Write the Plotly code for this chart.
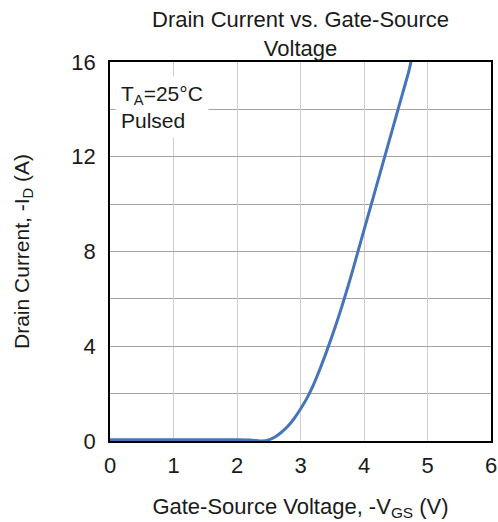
import plotly.graph_objects as go

# Transfer characteristic: -VGS (V) vs -ID (A), TA = 25 °C, pulsed
vgs = [0.0, 0.5, 1.0, 1.5, 2.0, 2.2, 2.3, 2.4, 2.5, 2.6, 2.7, 2.8, 2.9,
       3.0, 3.1, 3.2, 3.3, 3.4, 3.5, 3.6, 3.7, 3.8, 3.9, 4.0, 4.1, 4.2,
       4.3, 4.4, 4.5, 4.6, 4.7, 4.74]
id_a = [0.05, 0.05, 0.05, 0.05, 0.05, 0.04, 0.02, 0.0, 0.05, 0.17, 0.37, 0.62, 0.95,
        1.35, 1.8, 2.35, 3.0, 3.7, 4.45, 5.25, 6.1, 7.0, 7.95, 8.9, 9.85, 10.8,
        11.75, 12.7, 13.65, 14.6, 15.55, 16.0]

x_ticks = [0, 1, 2, 3, 4, 5, 6]
y_ticks = [0, 4, 8, 12, 16]

FONT = "Liberation Sans, Arial, sans-serif"
TXT = "#1a1a1a"

fig = go.Figure()
fig.add_trace(go.Scatter(
    x=vgs, y=id_a, mode="lines",
    line=dict(color="#4674BA", width=3, shape="spline", smoothing=0.8),
    hoverinfo="skip", showlegend=False,
))

# Test-condition note, on a white box over the grid
fig.add_annotation(
    text="T<sub>A</sub>=25°C<br>Pulsed",
    xref="paper", yref="paper", x=0.012, y=0.962,
    xanchor="left", yanchor="top", align="left",
    showarrow=False, bgcolor="white", borderpad=5,
    font=dict(family=FONT, size=21, color=TXT),
)

# Chart title (two lines)
fig.add_annotation(
    text="Drain Current vs. Gate-Source<br>Voltage",
    xref="paper", yref="paper", x=0.5, y=1.15,
    xanchor="center", yanchor="top", align="center",
    showarrow=False,
    font=dict(family=FONT, size=22, color=TXT),
)

fig.update_layout(
    width=498, height=522,
    margin=dict(l=110, r=7, t=62, b=81, autoexpand=False),
    paper_bgcolor="white", plot_bgcolor="white",
    font=dict(family=FONT, size=22, color=TXT),
    xaxis=dict(
        range=[0, 6], tickvals=x_ticks, ticktext=[str(v) for v in x_ticks],
        showgrid=True, gridcolor="#cfcfcf", gridwidth=1,
        zeroline=False, showline=True, linecolor="black", linewidth=1.6,
        mirror=True, ticks="", ticklabelstandoff=4, automargin=False,
        tickfont=dict(size=22),
        title=dict(text="Gate-Source Voltage, -V<sub>GS</sub> (V)",
                   font=dict(size=22), standoff=21),
    ),
    yaxis=dict(
        range=[0, 16], tickvals=y_ticks, ticktext=[str(v) for v in y_ticks],
        showgrid=True, gridcolor="#a3a3a3", gridwidth=1.4,
        minor=dict(dtick=2, showgrid=True, gridcolor="#a3a3a3", gridwidth=1.4),
        zeroline=False, showline=True, linecolor="black", linewidth=1.6,
        mirror=True, ticks="", ticklabelstandoff=8, automargin=False,
        tickfont=dict(size=22),
        title=dict(text="Drain Current, -I<sub>D</sub> (A)",
                   font=dict(size=21), standoff=36),
    ),
)

fig.write_html("out.html")
